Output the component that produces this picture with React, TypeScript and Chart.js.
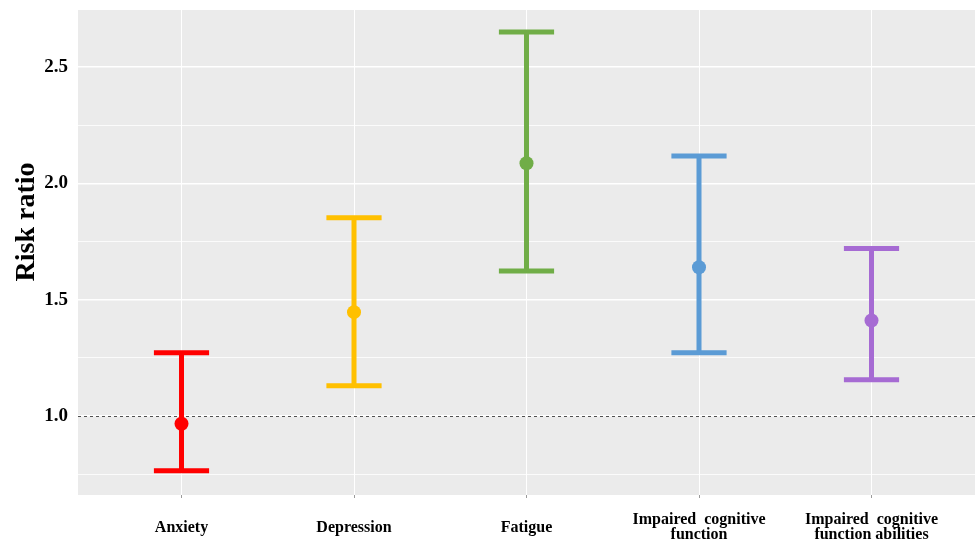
import React, { useEffect, useRef } from "react";
import { Chart, registerables } from "chart.js";

Chart.register(...registerables);

const categories = [
  "Anxiety",
  "Depression",
  "Fatigue",
  "Impaired cognitive function",
  "Impaired cognitive function abilities",
];
const tickLabels: string[][] = [
  ["Anxiety"],
  ["Depression"],
  ["Fatigue"],
  ["Impaired  cognitive", "function"],
  ["Impaired  cognitive", "function abilities"],
];
const estimates = [0.966, 1.446, 2.086, 1.639, 1.41];
const lowerCI = [0.764, 1.13, 1.623, 1.272, 1.155];
const upperCI = [1.271, 1.852, 2.65, 2.117, 1.72];
const colors = ["#FF0000", "#FFC000", "#70AD47", "#5B9BD5", "#A66BD3"];
const yTicks = [0.75, 1.0, 1.25, 1.5, 1.75, 2.0, 2.25, 2.5];
const majorTicks = [1.0, 1.5, 2.0, 2.5];
const referenceValue = 1.0;
const yMin = 0.66;
const yMax = 2.745;
const yTitle = "Risk ratio";

const FONT = "'Liberation Serif', 'Times New Roman', serif";

const isMajor = (v: number) => majorTicks.some((m) => Math.abs(m - v) < 1e-6);

const zeroPadding = (scale: any) => {
  scale.paddingLeft = 0;
  scale.paddingRight = 0;
  scale.paddingTop = 0;
  scale.paddingBottom = 0;
};

const panelPlugin = {
  id: "panel",
  beforeDraw(chart: any) {
    const { ctx, chartArea } = chart;
    ctx.save();
    ctx.fillStyle = "#EBEBEB";
    ctx.fillRect(chartArea.left, chartArea.top, chartArea.right - chartArea.left, chartArea.bottom - chartArea.top);
    ctx.restore();
  },
  beforeDatasetsDraw(chart: any) {
    const { ctx, chartArea, scales } = chart;
    const y = scales.y.getPixelForValue(referenceValue);
    ctx.save();
    ctx.strokeStyle = "#505050";
    ctx.lineWidth = 1;
    ctx.setLineDash([3, 3]);
    ctx.beginPath();
    ctx.moveTo(chartArea.left, Math.round(y) + 0.5);
    ctx.lineTo(chartArea.right, Math.round(y) + 0.5);
    ctx.stroke();
    ctx.setLineDash([]);
    const xs = scales.x;
    const ys = scales.y;
    const capHalf = 0.16;
    categories.forEach((_, i) => {
      const px = xs.getPixelForValue(i);
      const pl = xs.getPixelForValue(i - capHalf);
      const pr = xs.getPixelForValue(i + capHalf);
      const yl = ys.getPixelForValue(lowerCI[i]);
      const yu = ys.getPixelForValue(upperCI[i]);
      ctx.strokeStyle = colors[i];
      ctx.lineWidth = 5;
      ctx.lineCap = "butt";
      ctx.beginPath();
      ctx.moveTo(px, yl);
      ctx.lineTo(px, yu);
      ctx.moveTo(pl, yl);
      ctx.lineTo(pr, yl);
      ctx.moveTo(pl, yu);
      ctx.lineTo(pr, yu);
      ctx.stroke();
    });
    ctx.restore();
  },
  afterDraw(chart: any) {
    const { ctx } = chart;
    ctx.save();
    ctx.fillStyle = "#000000";
    ctx.font = `bold 28px ${FONT}`;
    ctx.textAlign = "center";
    ctx.textBaseline = "middle";
    ctx.translate(27, 222);
    ctx.rotate(-Math.PI / 2);
    ctx.fillText(yTitle, 0, 0);
    ctx.restore();
  },
};

export default function App() {
  const ref = useRef<HTMLCanvasElement | null>(null);
  useEffect(() => {
    document.body.style.margin = "0";
    const canvas = ref.current!;
    const chart = new Chart(canvas, {
      type: "scatter",
      data: {
        datasets: [
          {
            data: estimates.map((v, i) => ({ x: i, y: v })),
            pointRadius: 7,
            pointHoverRadius: 7,
            pointBackgroundColor: colors,
            pointBorderColor: colors,
            pointBorderWidth: 0,
          },
        ],
      },
      options: {
        responsive: false,
        animation: false,
        events: [],
        layout: { autoPadding: false, padding: { top: 10, left: 0, right: 0, bottom: 0 } },
        plugins: {
          legend: { display: false },
          tooltip: { enabled: false },
          title: { display: false },
        },
        scales: {
          x: {
            type: "linear",
            min: -0.6,
            max: 4.6,
            afterBuildTicks: (scale: any) => {
              scale.ticks = categories.map((_, i) => ({ value: i }));
            },
            afterFit: (scale: any) => {
              scale.height = 51;
              zeroPadding(scale);
            },
            border: { display: false },
            grid: {
              color: "#FFFFFF",
              lineWidth: 1,
              drawTicks: true,
              tickLength: 3,
              tickColor: "#9A9A9A",
              tickWidth: 1,
            },
            ticks: {
              padding: 22,
              autoSkip: false,
              maxRotation: 0,
              crossAlign: "center",
              color: "#000000",
              font: { family: FONT, size: 16, weight: "bold", lineHeight: "15px" },
              callback: (v: any) => {
                const idx = Math.round(Number(v));
                const l = tickLabels[idx];
                return l ? (l.length === 1 ? l[0] : l) : "";
              },
            },
          },
          y: {
            type: "linear",
            min: yMin,
            max: yMax,
            afterBuildTicks: (scale: any) => {
              scale.ticks = yTicks.map((v) => ({ value: v }));
            },
            afterFit: (scale: any) => {
              scale.width = 78;
              zeroPadding(scale);
            },
            border: { display: false },
            grid: {
              color: "#FFFFFF",
              lineWidth: (c: any) => (c.tick && isMajor(c.tick.value) ? 1.5 : 0.8),
              drawTicks: false,
            },
            ticks: {
              padding: 10,
              color: "#000000",
              font: { family: FONT, size: 19, weight: "bold" },
              callback: (v: any) => (isMajor(Number(v)) ? Number(v).toFixed(1) : ""),
            },
          },
        },
      },
      plugins: [panelPlugin],
    } as any);
    return () => chart.destroy();
  }, []);
  return (
    <div style={{ position: "absolute", left: 0, top: 0, width: 975, height: 546, background: "#FFFFFF" }}>
      <canvas ref={ref} width={975} height={546} />
    </div>
  );
}
